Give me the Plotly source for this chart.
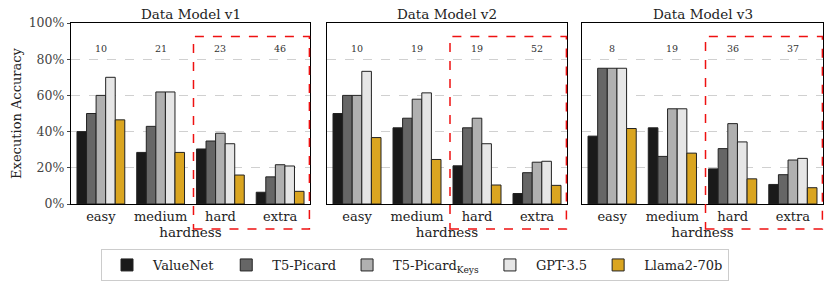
import plotly.graph_objects as go

categories = ["easy", "medium", "hard", "extra"]
models = ["ValueNet", "T5-Picard", "T5-Picard<sub>Keys</sub>", "GPT-3.5", "Llama2-70b"]
colors = ["#1a1a1a", "#666666", "#b0b0b0", "#e6e6e6", "#daa520"]
panel_titles = ["Data Model v1", "Data Model v2", "Data Model v3"]

# values in % per panel, per model, per category
v1 = {
    "ValueNet": [40, 28.5, 30.4, 6.5],
    "T5-Picard": [50, 42.9, 34.8, 15.0],
    "T5-Picard<sub>Keys</sub>": [60, 61.9, 39.1, 21.7],
    "GPT-3.5": [70, 61.9, 33.3, 21.0],
    "Llama2-70b": [46.5, 28.5, 16.0, 7.0],
}
v2 = {
    "ValueNet": [50, 42.1, 21.1, 5.8],
    "T5-Picard": [60, 47.4, 42.1, 17.3],
    "T5-Picard<sub>Keys</sub>": [60, 57.9, 47.4, 23.1],
    "GPT-3.5": [73.3, 61.4, 33.3, 23.6],
    "Llama2-70b": [36.7, 24.6, 10.5, 10.3],
}
v3 = {
    "ValueNet": [37.5, 42.1, 19.4, 10.8],
    "T5-Picard": [75, 26.3, 30.6, 16.2],
    "T5-Picard<sub>Keys</sub>": [75, 52.6, 44.4, 24.3],
    "GPT-3.5": [75, 52.6, 34.3, 25.2],
    "Llama2-70b": [41.7, 28.1, 13.9, 9.0],
}
panel_values = [v1, v2, v3]
counts = [[10, 21, 23, 46], [10, 19, 19, 52], [8, 19, 36, 37]]

y_ticks = [0, 20, 40, 60, 80, 100]
y_ticktext = ["0%", "20%", "40%", "60%", "80%", "100%"]
count_y = 86
box_x = [1.55, 3.49]
box_y = [-13.8, 92.6]

W, H = 830, 288
x_domains = [[71 / W, 310 / W], [327 / W, 567 / W], [582 / W, 823 / W]]
y_domain = [1 - 204 / H, 1 - 23 / H]
x_range = [-0.5, 3.5]
y_range = [0, 100]

FONT = "DejaVu Serif"
fig = go.Figure()

for p, vals in enumerate(panel_values):
    xa = "x" if p == 0 else f"x{p+1}"
    ya = "y" if p == 0 else f"y{p+1}"
    for m, c in zip(models, colors):
        fig.add_trace(go.Bar(
            x=list(range(len(categories))), y=vals[m], name=m,
            marker=dict(color=c, line=dict(color="#222222", width=1)),
            xaxis=xa, yaxis=ya, showlegend=(p == 0), legendgroup=m,
        ))
    axis_suffix = "" if p == 0 else str(p + 1)
    yaxis_cfg = dict(
        domain=y_domain, anchor=xa, range=y_range, automargin=False,
        tickvals=y_ticks, showticklabels=(p == 0),
        showline=True, linecolor="black", linewidth=1.2, mirror=True,
        ticks="outside" if p == 0 else "", ticklen=3, tickcolor="#444",
        showgrid=True, gridcolor="#d0d0d0", griddash="dash", gridwidth=1,
        zeroline=False,
        tickfont=dict(family=FONT, size=12.5, color="#444"),
    )
    if p == 0:
        yaxis_cfg["ticktext"] = y_ticktext
        yaxis_cfg["title"] = dict(text="Execution Accuracy",
                                  font=dict(family=FONT, size=13, color="#222"), standoff=4)
    fig.update_layout(**{
        f"xaxis{axis_suffix}": dict(
            domain=x_domains[p], anchor=ya, range=x_range, automargin=False,
            tickvals=list(range(len(categories))), ticktext=categories,
            showline=True, linecolor="black", linewidth=1.2, mirror=True,
            ticks="", showgrid=False, zeroline=False,
            tickfont=dict(family=FONT, size=13, color="#222"),
            title=dict(text="hardness", font=dict(family=FONT, size=13.5, color="#222"), standoff=3),
        ),
        f"yaxis{axis_suffix}": yaxis_cfg,
    })
    # panel title
    fig.add_annotation(
        text=panel_titles[p], xref=f"{xa} domain", yref="paper",
        x=0.5, y=y_domain[1], yanchor="bottom", showarrow=False, yshift=-1,
        font=dict(family=FONT, size=13.5, color="#222"),
    )
    # counts
    for i, n in enumerate(counts[p]):
        fig.add_annotation(
            text=str(n), x=i, y=count_y, xref=xa, yref=ya, showarrow=False,
            font=dict(family=FONT, size=9.5, color="#333333"),
        )
    # red dashed box (domain coordinates computed from data values)
    fx = [(b - x_range[0]) / (x_range[1] - x_range[0]) for b in box_x]
    fy = [(b - y_range[0]) / (y_range[1] - y_range[0]) for b in box_y]
    fig.add_shape(
        type="rect", xref=f"{xa} domain", yref=f"{ya} domain",
        x0=fx[0], x1=fx[1], y0=fy[0], y1=fy[1],
        line=dict(color="#ee1111", width=1.5, dash="dash"),
        fillcolor="rgba(0,0,0,0)", layer="above",
    )

fig.update_layout(
    width=W, height=H,
    margin=dict(l=0, r=0, t=0, b=0),
    paper_bgcolor="white", plot_bgcolor="white",
    barmode="group", bargap=0.2, bargroupgap=0,
    font=dict(family=FONT, color="#222"),
    legend=dict(
        orientation="h", x=0.5, xanchor="center", y=(H - 281) / H, yanchor="bottom",
        bordercolor="#cccccc", borderwidth=1, bgcolor="white",
        font=dict(family=FONT, size=13, color="#222"),
        itemwidth=42,
    ),
)

fig.write_html("out.html", config={"displayModeBar": False},
               post_script="document.body.style.margin='0';")
